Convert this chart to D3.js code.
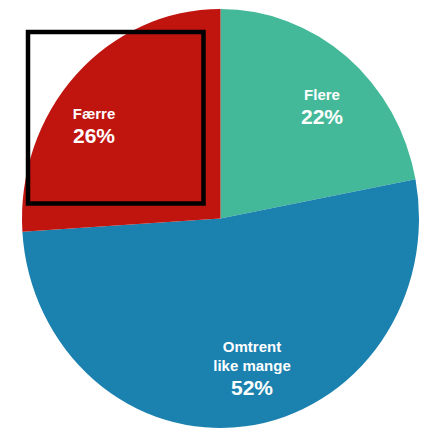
<!DOCTYPE html>
<html>
<head>
<meta charset="utf-8">
<script src="https://cdn.jsdelivr.net/npm/d3@7"></script>
<style>
  html, body { margin: 0; padding: 0; background: #ffffff; }
  svg { display: block; }
  text { font-family: "Liberation Sans", Arial, Helvetica, sans-serif; font-weight: bold; fill: #ffffff; }
</style>
</head>
<body>
<script>
const categories = ["Flere", "Omtrent like mange", "Færre"];
const values = [22, 52, 26];
const labelLines = [["Flere"], ["Omtrent", "like mange"], ["Færre"]];
const colors = ["#44B999", "#1B81AF", "#C0140F"];

const W = 422, H = 429;
const cx = 220.5, cy = 218.5, rx = 198.5, ry = 209.5;

const svg = d3.select("body").append("svg").attr("width", W).attr("height", H);

const pie = d3.pie().sort(null).value(d => d.value).startAngle(0).endAngle(2 * Math.PI);
const data = categories.map((c, i) => ({ name: c, value: values[i], lines: labelLines[i], color: colors[i] }));
const arcs = pie(data);

const arc = d3.arc().innerRadius(0).outerRadius(rx);

const g = svg.append("g").attr("transform", `translate(${cx},${cy}) scale(1,${ry / rx})`);
g.selectAll("path").data(arcs).enter().append("path")
  .attr("d", arc)
  .attr("fill", d => d.data.color);

// label anchor positions (name baseline of first line, offsets from pie center)
const labelPos = {
  "Flere": { x: 322, y: 99.5 },
  "Omtrent like mange": { x: 252, y: 351.5 },
  "Færre": { x: 94, y: 118.5 }
};

arcs.forEach(a => {
  const p = labelPos[a.data.name];
  const t = svg.append("g");
  a.data.lines.forEach((ln, i) => {
    t.append("text")
      .attr("x", p.x).attr("y", p.y + i * 19)
      .attr("text-anchor", "middle")
      .attr("font-size", 15)
      .text(ln);
  });
  t.append("text")
    .attr("x", p.x).attr("y", p.y + (a.data.lines.length - 1) * 19 + 24.5)
    .attr("text-anchor", "middle")
    .attr("font-size", 21)
    .text(d3.format(".0f")(a.data.value) + "%");
});

// black highlight rectangle
svg.append("rect")
  .attr("x", 28).attr("y", 32).attr("width", 175.5).attr("height", 171.5)
  .attr("fill", "none").attr("stroke", "#000").attr("stroke-width", 4.5);
</script>
</body>
</html>
